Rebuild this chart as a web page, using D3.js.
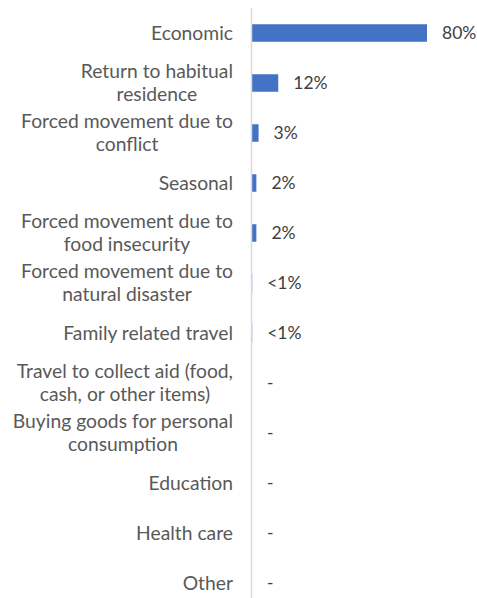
<!DOCTYPE html>
<html><head><meta charset="utf-8">
<script src="https://cdn.jsdelivr.net/npm/d3@7"></script>
<style>body{margin:0;background:#fff;}svg{display:block;}</style>
</head><body>
<script>
const categories = [
  "Economic",
  "Return to habitual\nresidence",
  "Forced movement due to\nconflict",
  "Seasonal",
  "Forced movement due to\nfood insecurity",
  "Forced movement due to\nnatural disaster",
  "Family related travel",
  "Travel to collect aid (food,\ncash, or other items)",
  "Buying goods for personal\nconsumption",
  "Education",
  "Health care",
  "Other"
];
const values = [80, 12, 3, 2, 2, 0.1, 0.1, 0, 0, 0, 0, 0];
const valueLabels = ["80%", "12%", "3%", "2%", "2%", "<1%", "<1%", "-", "-", "-", "-", "-"];

const W = 477, H = 598;
const font = "Lato, 'Open Sans', sans-serif";
const fs = 19.3;
const fsVal = 17.5;
const svg = d3.select("body").append("svg").attr("width", W).attr("height", H);

const x = d3.scaleLinear().domain([0, 80]).range([252, 427]);
const y = d3.scaleBand().domain(categories).range([8, 608]).paddingInner(0.65).paddingOuter(0.325);

svg.selectAll("rect.bar").data(categories).join("rect")
  .attr("class", "bar")
  .attr("x", x(0))
  .attr("y", d => y(d))
  .attr("width", (d, i) => x(values[i]) - x(0))
  .attr("height", y.bandwidth())
  .attr("fill", "#4472C4");

svg.append("line")
  .attr("x1", 251.5).attr("x2", 251.5)
  .attr("y1", 8).attr("y2", H)
  .attr("stroke", "#d9d9d9").attr("stroke-width", 1.5);

const lh = 23;
const cat = svg.selectAll("text.cat").data(categories).join("text")
  .attr("class", "cat")
  .attr("text-anchor", "end")
  .attr("font-family", font)
  .attr("font-size", fs)
  .attr("fill", "#595959")
  .attr("transform", d => `translate(233,${y(d) + y.bandwidth() / 2})`);
cat.each(function (d) {
  const lines = d.split("\n");
  const t = d3.select(this);
  lines.forEach((ln, k) => {
    const off = (k - (lines.length - 1) / 2) * lh;
    t.append("tspan").attr("x", 0).attr("y", off).attr("dy", "0.35em").text(ln);
  });
});
cat.each(function (d) {
  const lines = d.split("\n");
  if (lines.length < 2) return;
  const tspans = d3.select(this).selectAll("tspan").nodes();
  const maxW = d3.max(tspans.map(n => n.getComputedTextLength()));
  tspans.forEach(n => d3.select(n).attr("text-anchor", "middle").attr("x", -maxW / 2));
});

svg.selectAll("text.val").data(categories).join("text")
  .attr("class", "val")
  .attr("x", (d, i) => x(values[i]) + 15)
  .attr("y", d => y(d) + y.bandwidth() / 2)
  .attr("dy", "0.35em")
  .attr("font-family", font)
  .attr("font-size", fsVal)
  .attr("fill", "#404040")
  .text((d, i) => valueLabels[i]);
</script>
</body></html>
